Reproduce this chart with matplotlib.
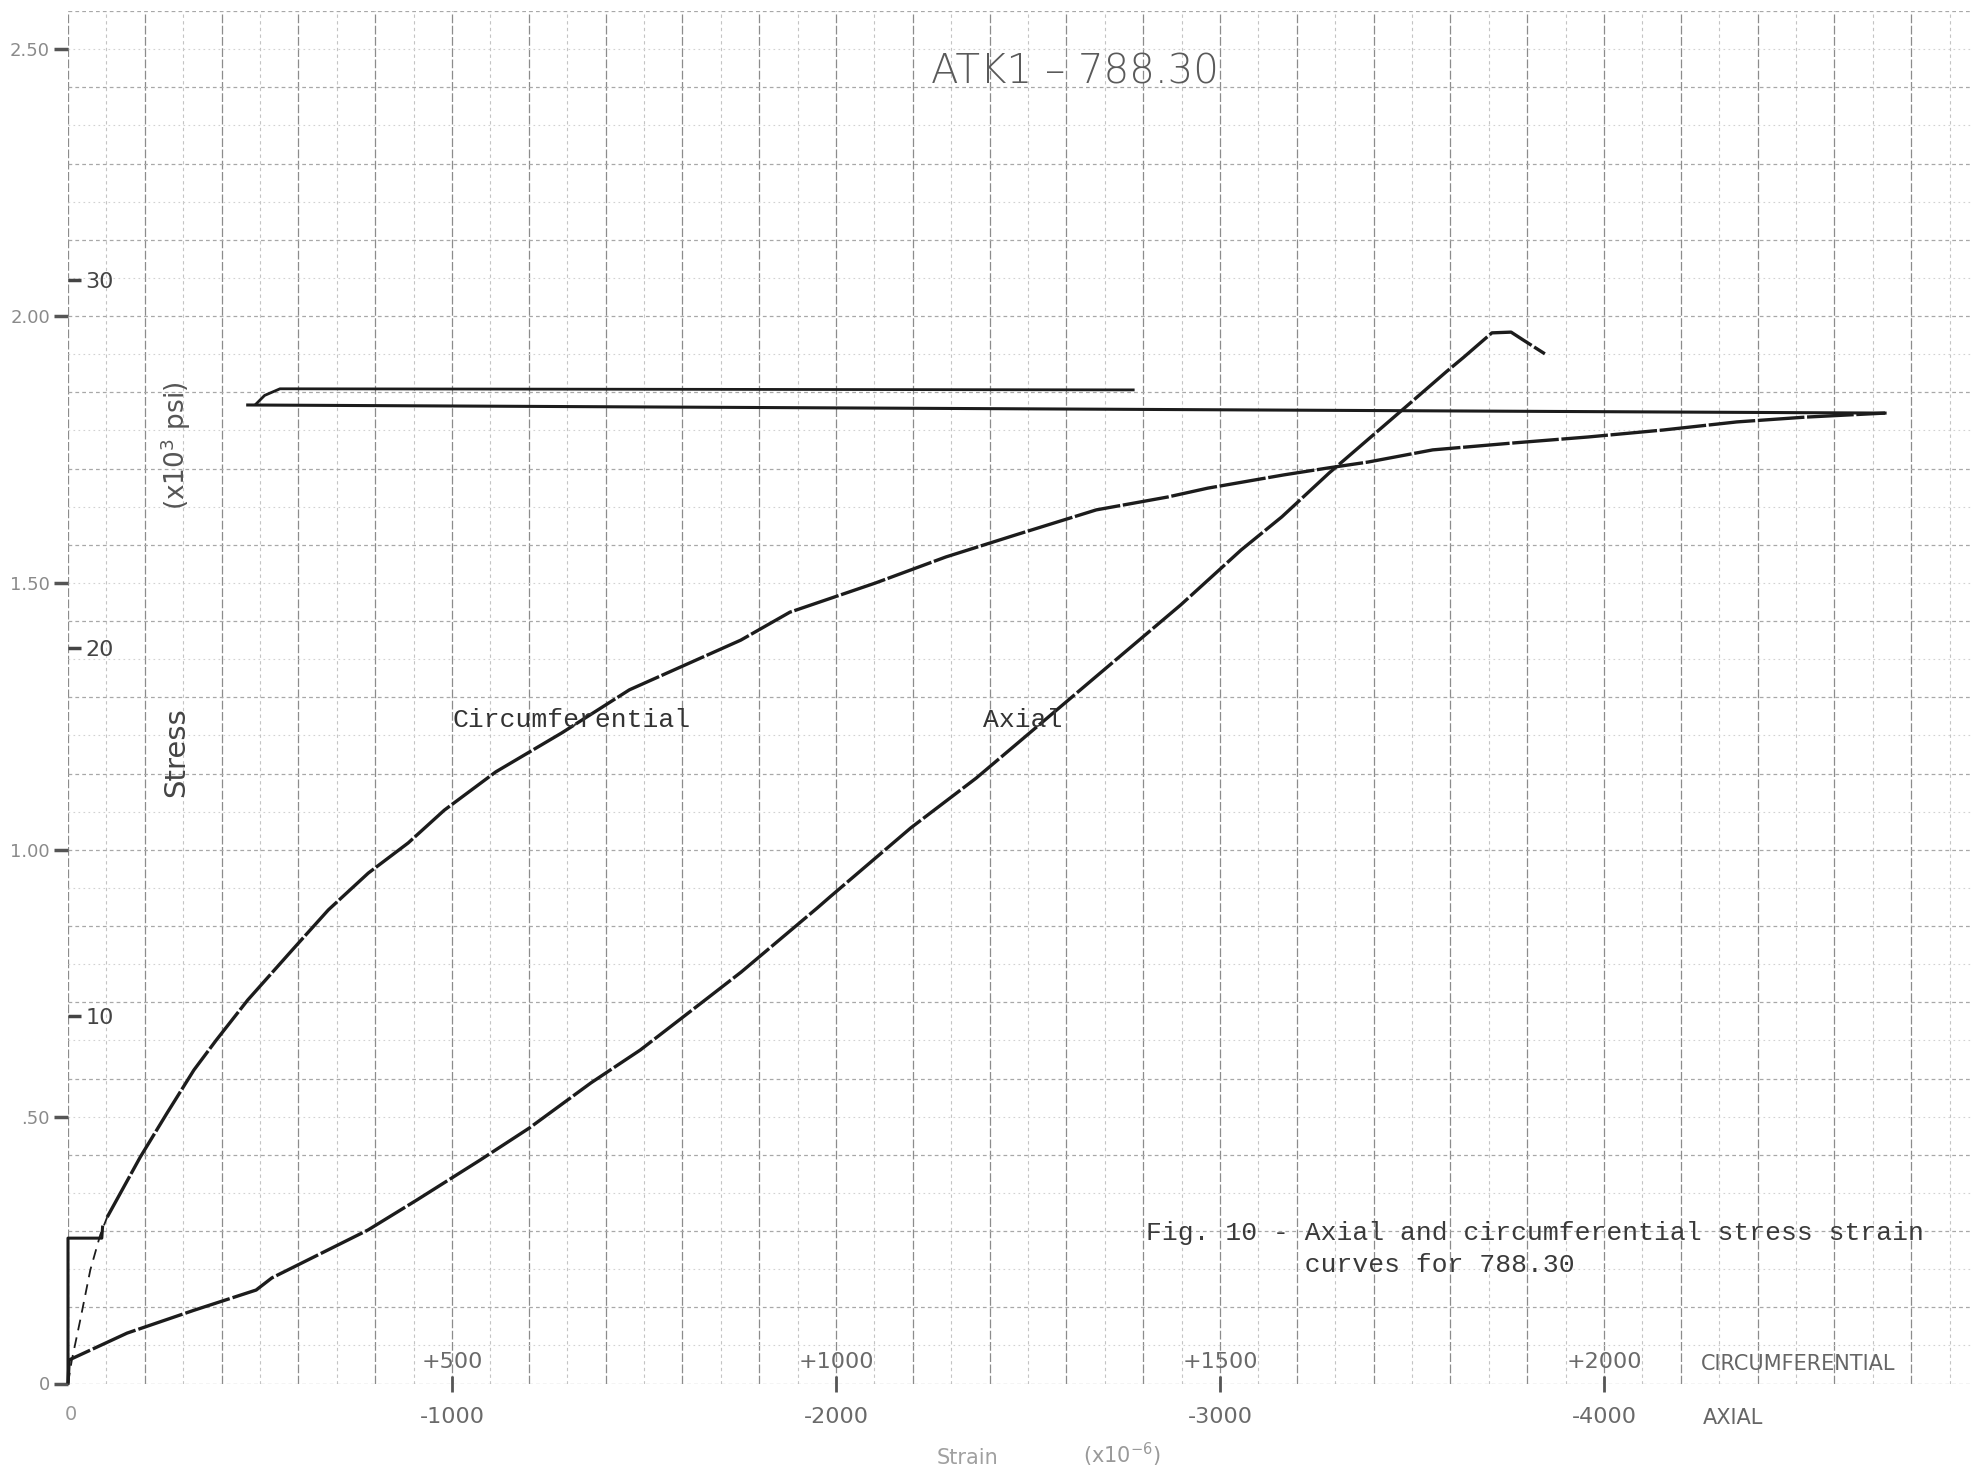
import matplotlib
matplotlib.use("Agg")
import matplotlib.pyplot as plt
from matplotlib.ticker import MultipleLocator, FixedLocator

# ---------------- data ----------------
# circumferential strain (x1e-6) and stress (x10^3 psi)
circ_strain = [0, 5, 16, 29, 42, 51, 94, 129, 164, 193, 234, 292, 339, 391, 443,
               490, 557, 643, 731, 789, 876, 940, 1051, 1143, 1234, 1339, 1432,
               1484, 1583, 1641, 1693, 1777, 1883, 1979, 2077, 2173, 2262, 2366]
circ_stress = [0, 0.64, 1.73, 3.08, 4.04, 4.52, 6.15, 7.35, 8.52, 9.33, 10.42,
               11.78, 12.87, 13.87, 14.69, 15.58, 16.62, 17.68, 18.85, 19.39,
               20.20, 20.96, 21.75, 22.46, 23.06, 23.74, 24.09, 24.33, 24.69,
               24.88, 25.04, 25.37, 25.56, 25.72, 25.91, 26.13, 26.26, 26.37]

# axial strain (x1e-6, compressive scale) and stress (x10^3 psi)
axial_strain = [0, -3, -154, -328, -490, -531, -781, -909, -1073, -1201, -1362,
                -1490, -1659, -1753, -1951, -1984, -2195, -2297, -2365, -2474,
                -2667, -2898, -3055, -3161, -3284, -3354, -3474, -3589, -3635,
                -3708, -3758, -3789, -3846]
axial_stress = [0, 0.64, 1.37, 1.99, 2.54, 2.87, 4.17, 4.99, 6.07, 6.94, 8.17,
                9.06, 10.42, 11.18, 12.92, 13.22, 15.10, 15.91, 16.45, 17.41,
                19.12, 21.16, 22.65, 23.55, 24.74, 25.37, 26.45, 27.49, 27.89,
                28.55, 28.57, 28.36, 27.98]

# pen trace: initial zero step
step_strain = [0, 0, 44, 45]
step_stress = [0, 3.95, 3.95, 4.25]

# pen return traces at the top (circumferential strain scale)
return_lower_strain = [2366, 234]
return_lower_stress = [26.37, 26.59]
return_upper_strain = [245, 256, 276, 1387]
return_upper_stress = [26.62, 26.85, 27.03, 27.00]

# tick values / labels
circ_ticks = [500, 1000, 1500, 2000]
circ_tick_labels = ["+500", "+1000", "+1500", "+2000"]
axial_ticks = [-1000, -2000, -3000, -4000]
axial_tick_labels = ["-1000", "-2000", "-3000", "-4000"]
ksi_ticks = [10, 20, 30]
ksi_tick_labels = ["10", "20", "30"]
mpa_ticks = [0, 0.5, 1.0, 1.5, 2.0, 2.5]          # x100 MPa
mpa_tick_labels = ["0", ".50", "1.00", "1.50", "2.00", "2.50"]

# ---------------- layout ----------------
W, H = 1971, 1476
X0, Y0 = 68, 1383.5          # pixel position of origin
PX_PER_UE = 0.768
PX_PER_KSI = 36.8
KSI_PER_MPA100 = 14.5038
GRID_STEP = 0.5 / 7          # x100 MPa
N_ROWS = 36
ytop_ksi = N_ROWS * GRID_STEP * KSI_PER_MPA100
xmax = (W - X0) / PX_PER_UE

fig = plt.figure(figsize=(W / 100, H / 100), dpi=100, facecolor="white")
rect = [X0 / W, (H - Y0) / H, (W - X0) / W, ytop_ksi * PX_PER_KSI / H]

def fx(x):
    return x / W

def fy(y):
    return 1 - y / H

# graph-paper grid
axg = fig.add_axes(rect)
axg.set_xlim(0, xmax)
axg.set_ylim(0, N_ROWS * GRID_STEP)
axg.xaxis.set_major_locator(MultipleLocator(100))
axg.xaxis.set_minor_locator(MultipleLocator(50))
axg.yaxis.set_major_locator(MultipleLocator(2 * GRID_STEP))
axg.yaxis.set_minor_locator(MultipleLocator(GRID_STEP))
axg.tick_params(which="both", length=0, labelbottom=False, labelleft=False)
axg.grid(which="major", axis="x", color="#8c8c8c", lw=0.9, ls=(0, (7, 2)))
axg.grid(which="minor", axis="x", color="#c4c4c4", lw=0.8, ls=(0, (3, 3)))
axg.grid(which="major", axis="y", color="#a8a8a8", lw=0.9, ls=(0, (3, 2.5)))
axg.grid(which="minor", axis="y", color="#d2d2d2", lw=0.8, ls=(0, (1.5, 3)))
for s in axg.spines.values():
    s.set_visible(False)

# main axes: circumferential strain vs ksi
ax = fig.add_axes(rect)
ax.set_facecolor("none")
ax.set_xlim(0, xmax)
ax.set_ylim(0, ytop_ksi)
for s in ax.spines.values():
    s.set_visible(False)
ax.xaxis.set_major_locator(FixedLocator(circ_ticks))
ax.set_xticklabels(circ_tick_labels)
ax.tick_params(axis="x", direction="inout", length=12, width=2, color="#555",
               pad=-29, labelsize=16, labelcolor="#6a6a6a")
ax.yaxis.set_major_locator(FixedLocator(ksi_ticks))
ax.set_yticklabels(ksi_tick_labels)
ax.tick_params(axis="y", direction="in", length=9, width=2.5, color="#444",
               pad=-33, labelsize=16, labelcolor="#444")

# MPa scale on the left
axm = ax.twinx()
axm.set_ylim(0, N_ROWS * GRID_STEP)
axm.yaxis.set_ticks_position("left")
axm.yaxis.set_major_locator(FixedLocator(mpa_ticks))
axm.set_yticklabels(mpa_tick_labels)
axm.tick_params(axis="y", direction="out", length=10, width=2.5, color="#555",
                pad=3, labelsize=13, labelcolor="#8a8a8a")
axm.tick_params(axis="y", which="both", right=False, labelright=False)
for s in axm.spines.values():
    s.set_visible(False)

# axial strain scale
axa = ax.twiny()
axa.set_xlim(0, -2 * xmax)
axa.xaxis.set_ticks_position("bottom")
axa.xaxis.set_major_locator(FixedLocator(axial_ticks))
axa.set_xticklabels(axial_tick_labels)
axa.tick_params(axis="x", length=0, pad=17, labelsize=16, labelcolor="#6a6a6a")
axa.tick_params(axis="x", top=False, labeltop=False)
for s in axa.spines.values():
    s.set_visible(False)

pen = "#1c1c1c"
# circumferential curve
ax.plot(circ_strain[:6], circ_stress[:6], color=pen, lw=1.3, ls=(0, (6, 4)),
        clip_on=False)
ax.plot(circ_strain[5:], circ_stress[5:], color=pen, lw=2.4,
        ls=(0, (14, 0.8)), solid_capstyle="butt", clip_on=False)
ax.plot(step_strain, step_stress, color=pen, lw=2.2, clip_on=False)
ax.plot(return_lower_strain, return_lower_stress, color=pen, lw=2.2)
ax.plot(return_upper_strain, return_upper_stress, color=pen, lw=2.0)
# axial curve
axa.plot(axial_strain, axial_stress, color=pen, lw=2.4, ls=(0, (14, 0.9)),
         clip_on=False)

# ---------------- text ----------------
fig.text(fx(1075), fy(72), "ATK1 \u2013 788.30", ha="center", va="center",
         fontsize=29, color="#5a5a5a", family="DejaVu Sans", weight="light")
mono = "Liberation Mono"
fig.text(fx(452), fy(720), "Circumferential", ha="left", va="center",
         fontsize=19, color="#333333", family=mono)
fig.text(fx(983), fy(720), "Axial", ha="left", va="center",
         fontsize=19, color="#333333", family=mono)
fig.text(fx(1146), fy(1221),
         "Fig. 10 - Axial and circumferential stress strain\n"
         "          curves for 788.30",
         ha="left", va="top", fontsize=19, color="#3a3a3a", family=mono,
         linespacing=1.4)
fig.text(fx(1701), fy(1364), "CIRCUMFERENTIAL", ha="left", va="center",
         fontsize=15, color="#666666")
fig.text(fx(1703), fy(1418), "AXIAL", ha="left", va="center",
         fontsize=15, color="#666666")
fig.text(fx(71), fy(1414), "0", ha="center", va="center", fontsize=14,
         color="#999999")
fig.text(fx(968), fy(1458), "Strain", ha="center", va="center", fontsize=15,
         color="#a0a0a0")
fig.text(fx(1122), fy(1455), r"(x10$^{-6}$)", ha="center", va="center",
         fontsize=15, color="#999999")
fig.text(fx(176), fy(752), "Stress", ha="center", va="center", rotation=90,
         fontsize=21, color="#444444")
fig.text(fx(176), fy(446), r"(x10$^3$ psi)", ha="center", va="center",
         rotation=90, fontsize=19, color="#555555")

fig.savefig("out.png", dpi=100, facecolor="white")
